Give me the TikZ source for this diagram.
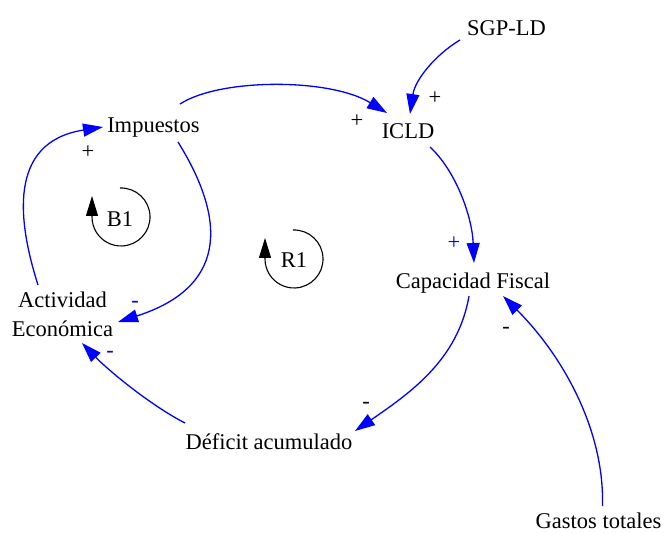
\documentclass[tikz,border=0pt]{standalone}
\usepackage{fontspec}
\setmainfont{Liberation Serif}
\usetikzlibrary{arrows.meta}
\tikzset{
  lbl/.style={inner sep=0pt, anchor=base, font=\fontsize{22.5}{29}\selectfont},
  sgn/.style={inner sep=0pt, anchor=base, font=\fontsize{22.5}{29}\selectfont},
  link/.style={draw=blue, line width=1.3pt, -{Triangle[length=20pt,width=13pt]}},
  loopmark/.style={draw=black, line width=1.1pt, -{Triangle[length=20pt,width=12pt]}},
}
\begin{document}
\begin{tikzpicture}[x=1pt,y=-1pt]
\useasboundingbox (0,0) rectangle (665,533);
% variables
\node[lbl] (sgp) at (506.5,35) {SGP-LD};
\node[lbl] (icld) at (408,138) {ICLD};
\node[lbl] (imp) at (153.5,132) {Impuestos};
\node[lbl, anchor=center, align=center] (act) at (62.5,314) {Actividad\\Económica};
\node[lbl] (cap) at (473,288) {Capacidad Fiscal};
\node[lbl] (def) at (269,449) {Déficit acumulado};
\node[lbl] (gas) at (598.5,528.5) {Gastos totales};
\node[lbl] (b1) at (120,226) {B1};
\node[lbl] (r1) at (294,267) {R1};
% links
\draw[link] ([shift={(26.5,-28)}]imp.base) .. controls +(40,-26) and +(-57,-35) .. ([shift={(-21,-25)}]icld.base);
\draw[link] ([shift={(-46.5,5)}]sgp.base) .. controls +(-25,15) and +(5,-34) .. ([shift={(2,-24)}]icld.base);
\draw[link] ([shift={(22,9)}]icld.base) .. controls +(25,23) and +(-2,-48) .. ([shift={(1,-25)}]cap.base);
\draw[link] ([shift={(-4,8)}]cap.base) .. controls +(-11,64) and +(55,-38) .. ([shift={(86,-18)}]def.base);
\draw[link] ([shift={(4,-22.5)}]gas.base) .. controls +(2,-76) and +(60,60) .. ([shift={(30,8)}]cap.base);
\draw[link] ([shift={(-84,-26)}]def.base) .. controls +(-35,-18) and +(26,27) .. ([shift={(19.5,29)}]act.center);
\draw[link] ([shift={(24.5,10)}]imp.base) .. controls +(51,82) and +(106,-34) .. ([shift={(55.5,8)}]act.center);
\draw[link] ([shift={(-24.5,-29)}]act.center) .. controls +(-20,-63) and +(-96,15) .. ([shift={(-50.5,-5)}]imp.base);
% loop markers
\draw[loopmark] ([shift={(0,-38)}]b1.base) arc[start angle=-92, end angle=180, radius=29] -- ++(0,-21);
\draw[loopmark] ([shift={(-1,-37)}]r1.base) arc[start angle=-92, end angle=180, radius=29] -- ++(0,-21);
% polarities
\node[sgn] (p1) at (88,158.6) {+};
\node[sgn, text=blue] (p2) at (135,307) {-};
\node[sgn, text=blue] (p3) at (110,357) {-};
\node[sgn] (p4) at (357,127.6) {+};
\node[sgn] (p5) at (435,104.6) {+};
\node[sgn, text=blue] (p6) at (454,249.6) {+};
\node[sgn] (p7) at (506,333) {-};
\node[sgn] (p8) at (366,408) {-};
\end{tikzpicture}
\end{document}
